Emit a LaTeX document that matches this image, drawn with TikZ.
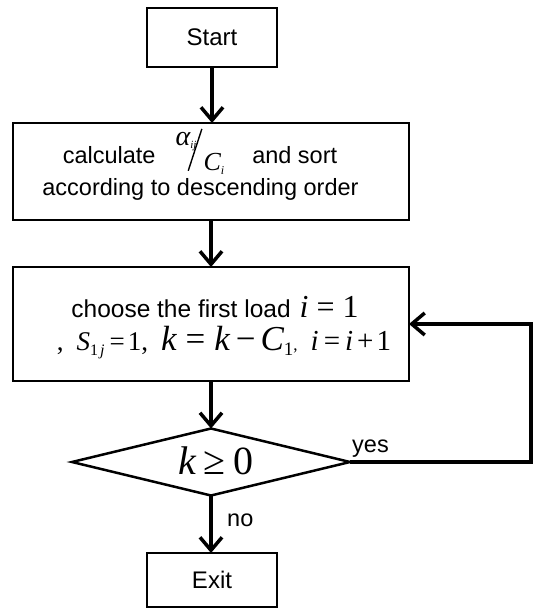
\documentclass[tikz,border=0pt]{standalone}
\usepackage{fontspec}
\usepackage{graphicx}
\setmainfont{Liberation Sans}
\newfontfamily\tms{Liberation Serif}
\usetikzlibrary{shapes.geometric,arrows.meta}
\newcommand{\mi}[1]{{\tms\itshape #1}}
\newcommand{\mr}[1]{{\tms #1}}
\newcommand{\fs}[1]{\fontsize{#1}{#1}\selectfont}
\newcommand{\gapp}[1]{\hspace{#1pt}}
\tikzset{
  box/.style={draw=black, line width=2.5pt, rectangle, inner sep=0pt, outer sep=0pt, font=\fontsize{24}{30}\selectfont},
  dec/.style={draw=black, line width=2.5pt, diamond, inner sep=0pt, outer sep=0pt, aspect=4.15, minimum width=278pt, minimum height=67pt},
  conn/.style={line width=3.5pt, -{Straight Barb[length=13pt,width=22pt,line width=3.5pt]}},
  lbl/.style={font=\fontsize{23.5}{28}\selectfont, inner sep=0pt},
}
\begin{document}
\begin{tikzpicture}[x=1pt,y=-1pt]
\useasboundingbox (0,0) rectangle (536,609);
\node[box, minimum width=130pt, minimum height=59pt] (start) at (212,37.5) {Start};
\node[box, minimum width=396pt, minimum height=97pt] (calc) at (211,171.5) {};
\node[lbl, anchor=base] (calc1) at (200,164)
  {calculate\gapp{20}\smash{\makebox[0pt][l]{\raisebox{18pt}{\fs{28}\mi{α}\raisebox{-3pt}{\fs{11}\mi{ij}}}}\gapp{12}\makebox[0pt][l]{\raisebox{-7pt}{\rotatebox{72}{\rule{44pt}{1.4pt}}}}\gapp{16}\raisebox{-7pt}{\fs{26}\mi{C}\raisebox{-4pt}{\fs{12}\mi{i}}}}\gapp{28}and sort};
\node[lbl, anchor=base] (calc2) at (200.5,196) {according to descending order};
\node[box, minimum width=396pt, minimum height=114pt] (choose) at (211,324) {};
\node[lbl, anchor=base, font=\fontsize{24.5}{28}\selectfont] (choose1) at (215,317)
  {choose the first load\gapp{9}\fs{32}\mi{i}\gapp{8}\mr{=}\gapp{8}\mr{1}};
\node[lbl, anchor=base] (choose2) at (224,350)
  {\fs{27}\mr{,}\gapp{13}\mi{S}\raisebox{-5pt}{\fs{16}\mr{1}\gapp{2}\mi{j}}\gapp{5}\mr{=}\gapp{3}\mr{1,}\gapp{13}%
   \fs{35}\mi{k}\gapp{9}\mr{=}\gapp{9}\mi{k}\gapp{6}\mr{−}\gapp{5}\mi{C}\raisebox{-5pt}{\fs{19}\mr{1}}\fs{17}\mr{,}\gapp{13}%
   \fs{29}\mi{i}\gapp{5}\mr{=}\gapp{5}\mi{i}\gapp{4}\mr{+}\gapp{3}\mr{1}};
\node[dec] (test) at (211,462) {};
\node[lbl] (testtxt) at (216,461) {\fs{40}\mi{k}\gapp{8}\mr{≥}\gapp{8}\mr{0}};
\node[box, minimum width=130pt, minimum height=54pt] (exit) at (212,580) {Exit};
\coordinate (ret) at (531,462);
\draw[conn] (start.south) -- (calc.north -| start.south);
\draw[conn] (calc.south) -- (choose.north);
\draw[conn] (choose.south) -- (test.north);
\draw[conn] (test.south) -- (exit.north -| test.south);
\draw[conn] (test.east) -- (ret) |- (choose.east);
\node[lbl, anchor=base west] (yes) at (352,452) {yes};
\node[lbl, anchor=west] (no) at (227,520) {no};
\end{tikzpicture}
\end{document}
